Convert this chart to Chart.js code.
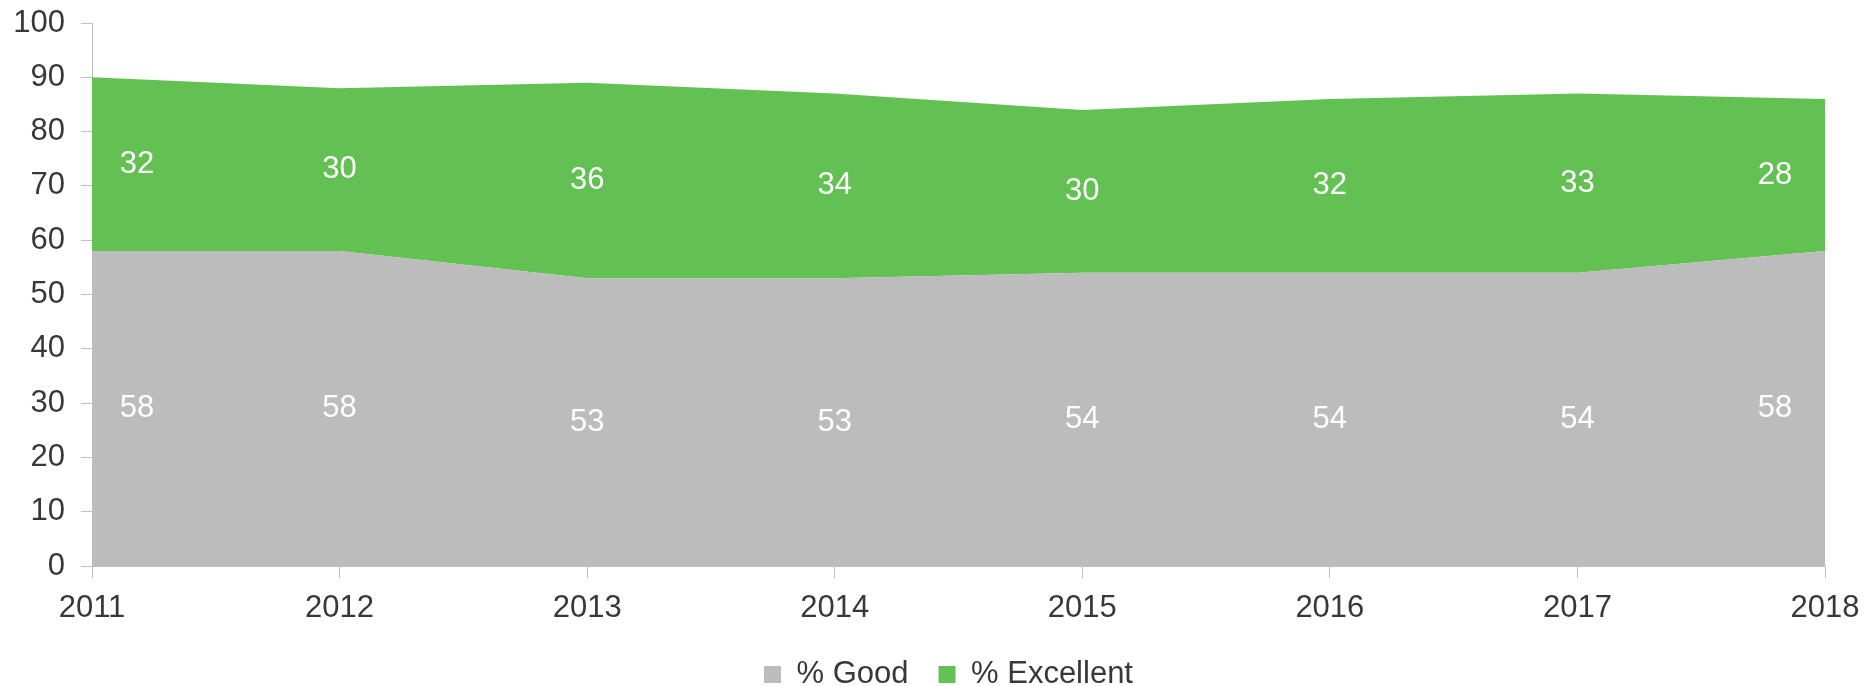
<!DOCTYPE html>
<html lang="en">
  <head>
    <meta charset="UTF-8" />
    <title>% Good / % Excellent</title>
    <script src="https://cdn.jsdelivr.net/npm/chart.js"></script>
    <style>
      html,
      body {
        margin: 0;
        padding: 0;
        background: #ffffff;
      }
      .chart-wrapper {
        position: relative;
        width: 1868px;
        height: 686px;
      }
    </style>
  </head>
  <body>
    <div class="chart-wrapper">
      <canvas id="areaChart"></canvas>
    </div>

    <script>
      const years = ["2011", "2012", "2013", "2014", "2015", "2016", "2017", "2018"];
      const goodValues = [58, 58, 53, 53, 54, 54, 54, 58];
      const excellentValues = [32, 30, 36, 34, 30, 32, 33, 28];
      const yTicks = [0, 10, 20, 30, 40, 50, 60, 70, 80, 90, 100];

      const axisColor = "#bfbfbf";
      const textColor = "#383838";
      const fontFamily = "'Liberation Sans', Arial, sans-serif";

      // value labels in the middle of each band
      const bandLabels = {
        id: "bandLabels",
        afterDatasetsDraw(chart) {
          const ctx = chart.ctx;
          const yScale = chart.scales.y;
          const lastIndex = years.length - 1;
          ctx.save();
          ctx.font = "31px " + fontFamily;
          ctx.fillStyle = "#ffffff";
          ctx.textAlign = "center";
          ctx.textBaseline = "middle";
          chart.data.datasets.forEach((ds, di) => {
            const meta = chart.getDatasetMeta(di);
            meta.data.forEach((pt, i) => {
              let base = 0;
              for (let k = 0; k < di; k++) base += chart.data.datasets[k].data[i];
              const v = ds.data[i];
              let x = pt.x;
              if (i === 0) x += 45;
              if (i === lastIndex) x -= 50;
              const y = yScale.getPixelForValue(base + v / 2);
              ctx.fillText(String(v), x, y);
            });
          });
          ctx.restore();
        },
      };

      // the legend sits centred under the plot area, not the whole canvas
      const legendShift = {
        id: "legendShift",
        afterLayout(chart) {
          if (chart.legend) {
            chart.legend.left += 36;
            chart.legend.right += 36;
          }
        },
      };

      new Chart(document.getElementById("areaChart"), {
        type: "line",
        data: {
          labels: years,
          datasets: [
            {
              label: "% Good",
              data: goodValues,
              backgroundColor: "#bcbcbc",
              borderWidth: 0,
              pointRadius: 0,
              fill: "origin",
              tension: 0,
            },
            {
              label: "% Excellent",
              data: excellentValues,
              backgroundColor: "#62c152",
              borderWidth: 0,
              pointRadius: 0,
              fill: "-1",
              tension: 0,
            },
          ],
        },
        options: {
          responsive: true,
          maintainAspectRatio: false,
          animation: false,
          layout: {
            padding: { top: 23, right: 43, left: 0, bottom: -14 },
          },
          plugins: {
            legend: {
              position: "bottom",
              labels: {
                color: textColor,
                font: { size: 31, family: fontFamily },
                boxWidth: 17,
                boxHeight: 17,
                padding: 30,
              },
            },
            tooltip: { enabled: false },
          },
          scales: {
            x: {
              offset: false,
              grid: {
                display: true,
                drawOnChartArea: false,
                drawTicks: true,
                tickLength: 12,
                color: axisColor,
              },
              border: { display: true, color: axisColor },
              ticks: {
                color: textColor,
                font: { size: 31, family: fontFamily },
                padding: 12,
                maxRotation: 0,
                autoSkip: false,
              },
              afterFit(scale) {
                scale.height = 63;
                scale.paddingLeft = 0;
                scale.paddingRight = 0;
              },
            },
            y: {
              stacked: true,
              min: 0,
              max: 100,
              afterBuildTicks(scale) {
                scale.ticks = yTicks.map((v) => ({ value: v }));
              },
              grid: {
                display: true,
                drawOnChartArea: false,
                drawTicks: true,
                tickLength: 11,
                color: axisColor,
              },
              border: { display: true, color: axisColor },
              ticks: {
                color: textColor,
                font: { size: 31, family: fontFamily },
                padding: 16,
              },
              afterFit(scale) {
                scale.width = 92;
                scale.paddingTop = 0;
                scale.paddingBottom = 0;
              },
            },
          },
        },
        plugins: [bandLabels, legendShift],
      });
    </script>
  </body>
</html>
